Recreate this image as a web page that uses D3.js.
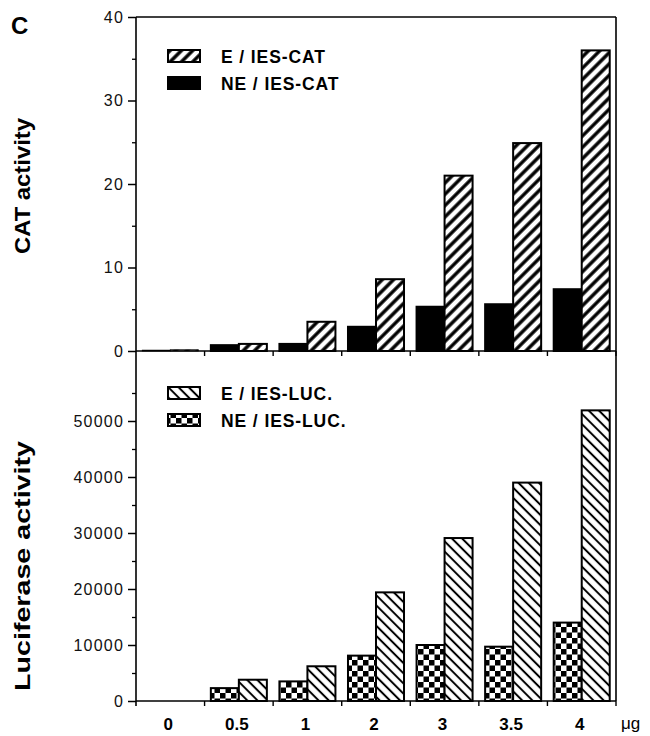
<!DOCTYPE html>
<html><head><meta charset="utf-8">
<script src="https://cdn.jsdelivr.net/npm/d3@7"></script>
<style>body{margin:0;background:#fff}</style>
</head><body>
<svg id="c" width="650" height="736"></svg>
<script>
const categories = ["0","0.5","1","2","3","3.5","4"];
const catE  = [0.15, 0.85, 3.5, 8.6, 21.0, 24.9, 36.0];
const catNE = [0.1, 0.7, 0.85, 2.9, 5.3, 5.6, 7.4];
const lucE  = [0, 3800, 6200, 19400, 29100, 39000, 51900];
const lucNE = [0, 2300, 3500, 8100, 10000, 9700, 14000];
const catTicks = [0,10,20,30,40];
const catMinor = [5,15,25,35];
const lucTicks = [0,10000,20000,30000,40000,50000];
const lucMinor = [5000,15000,25000,35000,45000,55000];

const svg = d3.select("#c");
const X0=136, X1=616, YT=17, YM=351, YB=701;
const FF = "Liberation Sans, Arial, sans-serif";
const x = d3.scaleBand().domain(categories).range([X0,X1]).paddingInner(0.183).paddingOuter(0.0915);
const xs = d3.scaleBand().domain(["NE","E"]).range([0,x.bandwidth()]);
const yC = d3.scaleLinear().domain([0,40]).range([YM,YT]);
const yL = d3.scaleLinear().domain([0,62500]).range([YB,YM]);

const defs = svg.append("defs");
function hatch(id, angle, size, sw){
  const p = defs.append("pattern").attr("id",id).attr("patternUnits","userSpaceOnUse")
    .attr("width",size).attr("height",size).attr("patternTransform",`rotate(${angle})`);
  p.append("rect").attr("width",size).attr("height",size).attr("fill","#fff");
  p.append("line").attr("x1",size/2).attr("x2",size/2).attr("y1",0).attr("y2",size)
    .attr("stroke","#000").attr("stroke-width",sw);
}
hatch("hF",45,8,3.4);
hatch("hB",-45,7.2,2);
const ck = defs.append("pattern").attr("id","ck").attr("patternUnits","userSpaceOnUse")
  .attr("width",11).attr("height",11);
ck.append("rect").attr("width",11).attr("height",11).attr("fill","#fff");
ck.append("rect").attr("width",5.5).attr("height",5.5).attr("fill","#000");
ck.append("rect").attr("x",5.5).attr("y",5.5).attr("width",5.5).attr("height",5.5).attr("fill","#000");

function bars(vals, key, y, fill){
  svg.append("g").selectAll("rect").data(vals).join("rect")
    .attr("x",(d,i)=>x(categories[i])+xs(key))
    .attr("width",xs.bandwidth())
    .attr("y",d=>y(d))
    .attr("height",d=>y(0)-y(d))
    .attr("fill",fill).attr("stroke","#000").attr("stroke-width",d=>(y(0)-y(d))>3?2:0.8)
    .style("display",d=>d>0?null:"none");
}
bars(catNE,"NE",yC,"#000");
bars(catE,"E",yC,"url(#hF)");
bars(lucNE,"NE",yL,"url(#ck)");
bars(lucE,"E",yL,"url(#hB)");

// frame
const frame = svg.append("g").attr("stroke","#000").attr("stroke-width",1.6).attr("fill","none");
frame.append("line").attr("x1",X0).attr("x2",X1).attr("y1",YT).attr("y2",YT);
frame.append("line").attr("x1",X1).attr("x2",X1).attr("y1",YT).attr("y2",YB);
frame.append("line").attr("x1",X0).attr("x2",X1).attr("y1",YM).attr("y2",YM);
frame.append("line").attr("x1",X0).attr("x2",X1).attr("y1",YB).attr("y2",YB);
frame.append("line").attr("x1",X0).attr("x2",X0).attr("y1",YT).attr("y2",YB+5);

function yAxis(scale, ticks, minor){
  const g = svg.append("g").attr("transform",`translate(${X0},0)`)
    .call(d3.axisLeft(scale).tickValues(ticks).tickSize(8).tickPadding(4).tickFormat(d3.format("d")));
  g.select(".domain").remove();
  g.selectAll("line").attr("stroke-width",1.5);
  g.selectAll("text").attr("font-family",FF).attr("font-size",16)
    .attr("letter-spacing",1.2).attr("fill","#111");
  const m = svg.append("g").attr("transform",`translate(${X0},0)`)
    .call(d3.axisLeft(scale).tickValues(minor).tickSize(4).tickFormat(""));
  m.select(".domain").remove();
  m.selectAll("line").attr("stroke-width",1.3);
}
yAxis(yC, catTicks, catMinor);
yAxis(yL, lucTicks, lucMinor);

// x boundary ticks
const bounds = d3.range(categories.length+1).map(i=>X0+i*x.step());
[YM,YB].forEach(yy=>{
  svg.append("g").selectAll("line").data(bounds.slice(1)).join("line")
    .attr("x1",d=>d).attr("x2",d=>d).attr("y1",yy).attr("y2",yy+5)
    .attr("stroke","#000").attr("stroke-width",1.4);
});

// x labels
const xa = svg.append("g").attr("transform",`translate(-2,${YB})`)
  .call(d3.axisBottom(x).tickSize(0).tickPadding(17));
xa.select(".domain").remove();
xa.selectAll("text").attr("font-family",FF).attr("font-weight","bold")
  .attr("font-size",17).attr("fill","#000");
svg.append("text").attr("x",621).attr("y",729).text("μg")
  .attr("font-family",FF).attr("font-size",17);

// panel letter
svg.append("text").attr("x",11).attr("y",34).text("C")
  .attr("font-family",FF).attr("font-weight","bold").attr("font-size",24);

// y titles
function ytitle(t, cy, len){
  svg.append("text").attr("transform",`translate(30,${cy}) rotate(-90)`).attr("text-anchor","middle")
    .attr("font-family",FF).attr("font-weight","bold").attr("font-size",22.5)
    .attr("textLength",len).attr("lengthAdjust","spacingAndGlyphs").text(t);
}
ytitle("CAT activity",186,136);
ytitle("Luciferase activity",566,250);

// legends
function legend(items, y0){
  items.forEach((it,i)=>{
    const cy = y0 + i*27;
    svg.append("rect").attr("x",168).attr("y",cy-6).attr("width",32).attr("height",12)
      .attr("fill",it.fill).attr("stroke","#000").attr("stroke-width",2);
    svg.append("text").attr("x",221).attr("y",cy+6.5).text(it.label)
      .attr("font-family",FF).attr("font-weight","bold").attr("font-size",17.5)
      .attr("letter-spacing",0.9);
  });
}
legend([{label:"E / IES-CAT",fill:"url(#hF)"},{label:"NE / IES-CAT",fill:"#000"}], 56);
legend([{label:"E / IES-LUC.",fill:"url(#hB)"},{label:"NE / IES-LUC.",fill:"url(#ck)"}], 393);
</script>
</body></html>
